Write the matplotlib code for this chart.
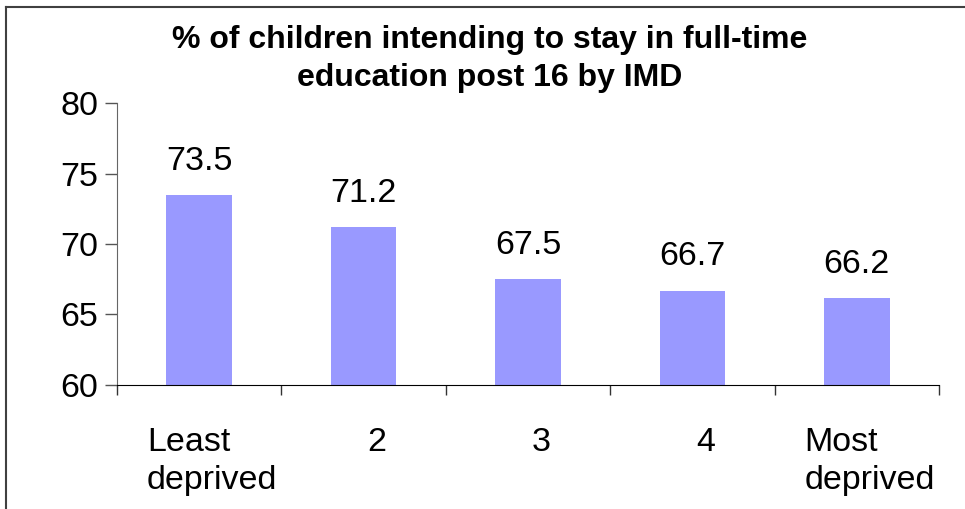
import matplotlib
matplotlib.use("Agg")
import matplotlib.pyplot as plt
from matplotlib.lines import Line2D
import matplotlib.transforms as mtransforms

categories = ["Least\ndeprived", "2", "3", "4", "Most\ndeprived"]
values = [73.5, 71.2, 67.5, 66.7, 66.2]
yticks = [60, 65, 70, 75, 80]
title = "% of children intending to stay in full-time\neducation post 16 by IMD"

plt.rcParams['font.family'] = ['Liberation Sans', 'DejaVu Sans']

fig = plt.figure(figsize=(9.65, 5.09), dpi=100)
ax = fig.add_axes([117/965, 1-385/509, (939-117)/965, (385-103)/509])

x = list(range(len(values)))
ax.bar(x, values, width=0.4, color="#9999FF", bottom=0)
ax.set_ylim(60, 80)
ax.set_xlim(-0.5, len(values)-0.5)
ax.set_yticks(yticks)
ax.set_yticklabels([str(v) for v in yticks], fontsize=24.5)
ax.tick_params(axis='y', direction='out', length=8.5, width=1, color='#555555', pad=5)

ax.set_xticks(x)
ax.set_xticklabels(categories, fontsize=24.5, multialignment='left', linespacing=1.3)
ax.tick_params(axis='x', which='major', length=0, pad=30)
ax.set_xticks([i - 0.5 for i in range(len(values)+1)], minor=True)
ax.tick_params(axis='x', which='minor', direction='out', length=7.5, width=1, color='#333333')
offset = mtransforms.ScaledTranslation(13/100, 0, fig.dpi_scale_trans)
for lbl in ax.get_xticklabels():
    lbl.set_transform(lbl.get_transform() + offset)

for s in ['top', 'right']:
    ax.spines[s].set_visible(False)
ax.spines['left'].set_color('#666666')
ax.spines['bottom'].set_color('black')

for xi, v in zip(x, values):
    ax.annotate(f"{v}", (xi, v), xytext=(0, 13), textcoords='offset points',
                ha='center', va='bottom', fontsize=24.5)

fig.text(0.507, 1-59/509, title, ha='center', va='center', fontsize=23,
         fontweight='bold', linespacing=1.35)

fig.add_artist(Line2D([5.5/965, 5.5/965], [0, 1-7/509], transform=fig.transFigure,
                      color='#404040', lw=1.5))
fig.add_artist(Line2D([5.5/965, 1.0], [1-7/509, 1-7/509], transform=fig.transFigure,
                      color='#404040', lw=1.5))

fig.savefig("out.png", dpi=100)
